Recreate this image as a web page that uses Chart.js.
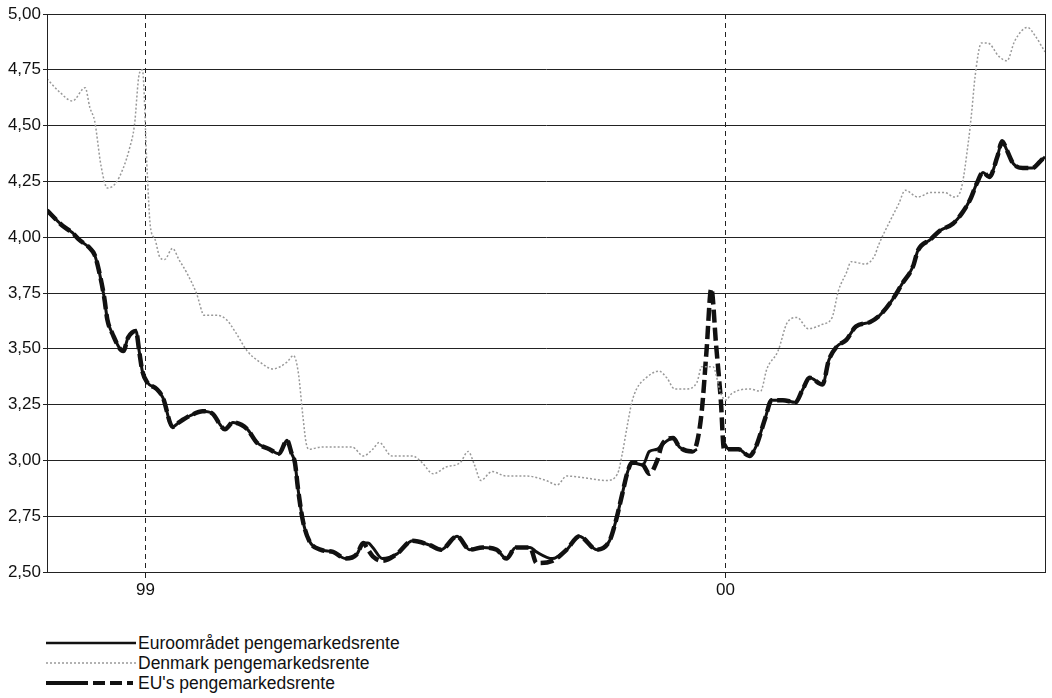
<!DOCTYPE html>
<html lang="da">
<head>
<meta charset="UTF-8">
<title>Pengemarkedsrenter</title>
<script src="https://cdn.jsdelivr.net/npm/chart.js"></script>
<style>
  body { margin: 0; background: #fff; font-family: "Liberation Sans", Arial, sans-serif; }
  #wrap { position: relative; width: 1052px; height: 698px; overflow: hidden; }
  #chart { position: absolute; left: 0; top: 0; }
  #legend { position: absolute; left: 46px; top: 633px; font-size: 17.5px; color: #111; }
  #legend div { display: flex; align-items: center; height: 20px; }
  #legend svg { margin-right: 2px; }
</style>
</head>
<body>
<div id="wrap">
  <canvas id="chart" width="1052" height="600"></canvas>
  <div id="legend">
    <div><svg width="90" height="8"><line x1="0" y1="4" x2="90" y2="4" stroke="#111" stroke-width="2.5"/></svg>Euroområdet pengemarkedsrente</div>
    <div><svg width="90" height="8"><line x1="0" y1="4" x2="90" y2="4" stroke="#999" stroke-width="1.5" stroke-dasharray="2 2"/></svg>Denmark pengemarkedsrente</div>
    <div><svg width="90" height="8"><line x1="0" y1="4" x2="90" y2="4" stroke="#111" stroke-width="4" stroke-dasharray="42 5 12 5 12 5 6 100"/></svg>EU's pengemarkedsrente</div>
  </div>
</div>
<script>
// euro area + EU (thick lines), same dates
const thickDates = [
  '1998-10-31','1998-11-10','1998-11-16','1998-11-20','1998-11-27','1998-11-30','1998-12-03','1998-12-06',
  '1998-12-08','1998-12-11','1998-12-18','1998-12-21','1998-12-26','1998-12-28','1998-12-30','1999-01-02',
  '1999-01-08','1999-01-12','1999-01-18','1999-01-22','1999-01-29','1999-02-06','1999-02-12','1999-02-20',
  '1999-02-25','1999-03-06','1999-03-12','1999-03-20','1999-03-26','1999-03-31','1999-04-03','1999-04-05',
  '1999-04-07','1999-04-10','1999-04-14','1999-04-21','1999-04-29','1999-05-07','1999-05-14','1999-05-18',
  '1999-05-21','1999-05-24','1999-05-30','1999-06-08','1999-06-18','1999-06-29','1999-07-06','1999-07-16',
  '1999-07-24','1999-08-01','1999-08-10','1999-08-16','1999-08-22','1999-08-31','1999-09-04','1999-09-14',
  '1999-09-23','1999-10-01','1999-10-12','1999-10-20','1999-10-24','1999-10-28','1999-10-31','1999-11-03',
  '1999-11-10','1999-11-14','1999-11-19','1999-11-22','1999-11-29','1999-12-03','1999-12-11','1999-12-14',
  '1999-12-17','1999-12-20','1999-12-23','1999-12-26','1999-12-29','1999-12-31','2000-01-03','2000-01-09',
  '2000-01-16','2000-01-20','2000-01-26','2000-01-30','2000-02-06','2000-02-14','2000-02-18','2000-02-23',
  '2000-03-02','2000-03-06','2000-03-11','2000-03-17','2000-03-23','2000-04-01','2000-04-07','2000-04-15',
  '2000-04-21','2000-04-28','2000-05-01','2000-05-09','2000-05-15','2000-05-23','2000-05-29','2000-06-03',
  '2000-06-07','2000-06-11','2000-06-15','2000-06-20','2000-06-23','2000-06-26','2000-06-30','2000-07-06',
  '2000-07-12','2000-07-17','2000-07-20'
];
const euroRates = [
  4.12, 4.05, 4.02, 3.99, 3.95, 3.92, 3.84, 3.73,
  3.63, 3.57, 3.49, 3.55, 3.58, 3.49, 3.40, 3.35,
  3.32, 3.28, 3.15, 3.17, 3.20, 3.22, 3.21, 3.14,
  3.17, 3.14, 3.08, 3.05, 3.03, 3.09, 3.03, 2.99,
  2.87, 2.73, 2.64, 2.60, 2.59, 2.56, 2.58, 2.63,
  2.63, 2.61, 2.56, 2.58, 2.64, 2.62, 2.60, 2.66,
  2.60, 2.61, 2.60, 2.56, 2.61, 2.61, 2.59, 2.56,
  2.60, 2.66, 2.60, 2.64, 2.73, 2.85, 2.94, 2.99,
  2.98, 3.04, 3.05, 3.07, 3.10, 3.06, 3.04, 3.05,
  null, null, null, null, null, 3.08, 3.05, 3.05,
  3.02, 3.06, 3.19, 3.27, 3.27, 3.26, 3.31, 3.37,
  3.34, 3.45, 3.51, 3.54, 3.60, 3.62, 3.65, 3.72,
  3.79, 3.87, 3.94, 3.99, 4.03, 4.06, 4.11, 4.17,
  4.24, 4.29, 4.27, 4.36, 4.43, 4.39, 4.33, 4.31,
  4.31, 4.34, 4.36
];
const euRates = [
  4.12, 4.05, 4.02, 3.99, 3.95, 3.92, 3.84, 3.73,
  3.63, 3.57, 3.49, 3.55, 3.58, 3.49, 3.40, 3.35,
  3.32, 3.28, 3.15, 3.17, 3.20, 3.22, 3.21, 3.14,
  3.17, 3.14, 3.08, 3.05, 3.03, 3.09, 3.03, 2.99,
  2.87, 2.73, 2.64, 2.60, 2.59, 2.56, 2.58, 2.63,
  2.60, 2.57, 2.55, 2.58, 2.64, 2.62, 2.60, 2.66,
  2.60, 2.61, 2.60, 2.56, 2.61, 2.61, 2.54, 2.55,
  2.60, 2.66, 2.60, 2.64, 2.73, 2.85, 2.94, 2.99,
  2.98, 2.94, 3.00, 3.07, 3.10, 3.06, 3.04, 3.08,
  3.22, 3.49, 3.77, 3.52, 3.27, 3.05, 3.05, 3.05,
  3.02, 3.06, 3.19, 3.27, 3.27, 3.26, 3.31, 3.37,
  3.34, 3.45, 3.51, 3.54, 3.60, 3.62, 3.65, 3.72,
  3.79, 3.87, 3.94, 3.99, 4.03, 4.06, 4.11, 4.17,
  4.24, 4.29, 4.27, 4.36, 4.43, 4.39, 4.33, 4.31,
  4.31, 4.34, 4.36
];

// Denmark
const dkDates = [
  '1998-10-31','1998-11-08','1998-11-16','1998-11-24','1998-11-27','1998-11-30','1998-12-04','1998-12-08',
  '1998-12-13','1998-12-18','1998-12-22','1998-12-25','1998-12-28','1998-12-30','1999-01-02','1999-01-04',
  '1999-01-07','1999-01-10','1999-01-13','1999-01-18','1999-01-22','1999-01-27','1999-02-02','1999-02-07',
  '1999-02-15','1999-02-21','1999-02-27','1999-03-06','1999-03-14','1999-03-22','1999-03-31','1999-04-04',
  '1999-04-07','1999-04-10','1999-04-12','1999-04-14','1999-04-22','1999-05-03','1999-05-11','1999-05-18',
  '1999-05-24','1999-05-28','1999-06-05','1999-06-18','1999-06-24','1999-07-01','1999-07-09','1999-07-18',
  '1999-07-23','1999-07-27','1999-07-31','1999-08-07','1999-08-16','1999-08-29','1999-09-10','1999-09-17',
  '1999-09-23','1999-10-06','1999-10-18','1999-10-25','1999-10-28','1999-10-31','1999-11-03','1999-11-06',
  '1999-11-12','1999-11-20','1999-11-25','1999-11-30','1999-12-07','1999-12-14','1999-12-17','1999-12-24',
  '1999-12-29','2000-01-01','2000-01-05','2000-01-16','2000-01-23','2000-01-27','2000-02-03','2000-02-09',
  '2000-02-15','2000-02-22','2000-03-02','2000-03-08','2000-03-12','2000-03-17','2000-03-20','2000-03-29',
  '2000-04-04','2000-04-06','2000-04-14','2000-04-19','2000-04-23','2000-05-01','2000-05-09','2000-05-18',
  '2000-05-24','2000-05-28','2000-06-02','2000-06-04','2000-06-06','2000-06-10','2000-06-14','2000-06-21',
  '2000-06-26','2000-07-01','2000-07-09','2000-07-14','2000-07-20'
];
const dkRates = [
  4.71, 4.65, 4.61, 4.67, 4.58, 4.52, 4.32, 4.22,
  4.24, 4.31, 4.40, 4.50, 4.73, 4.75, 4.30, 4.05,
  3.99, 3.91, 3.90, 3.95, 3.90, 3.84, 3.75, 3.65,
  3.65, 3.63, 3.57, 3.49, 3.44, 3.41, 3.44, 3.47,
  3.40, 3.20, 3.08, 3.05, 3.06, 3.06, 3.06, 3.02,
  3.05, 3.08, 3.02, 3.02, 2.99, 2.94, 2.97, 2.99,
  3.04, 2.98, 2.91, 2.95, 2.93, 2.93, 2.91, 2.89,
  2.93, 2.92, 2.91, 2.94, 3.03, 3.15, 3.26, 3.32,
  3.37, 3.40, 3.37, 3.32, 3.32, 3.35, 3.42, 3.42,
  3.30, 3.27, 3.30, 3.32, 3.31, 3.41, 3.49, 3.62,
  3.64, 3.59, 3.61, 3.64, 3.76, 3.84, 3.89, 3.88,
  3.92, 3.96, 4.08, 4.15, 4.21, 4.18, 4.20, 4.20,
  4.18, 4.21, 4.44, 4.57, 4.72, 4.87, 4.87, 4.81,
  4.79, 4.88, 4.94, 4.90, 4.83
];

const yTicks = [2.50, 2.75, 3.00, 3.25, 3.50, 3.75, 4.00, 4.25, 4.50, 4.75, 5.00];
const xTickDates = ['1999-01-01', '2000-01-01'];
const xTickLabels = ['99', '00'];
const xStart = '1998-10-31';
const xEnd = '2000-07-20';

// days since 1 Jan 1999
function dayNum(s) {
  const p = s.split('-').map(Number);
  return (Date.UTC(p[0], p[1] - 1, p[2]) - Date.UTC(1999, 0, 1)) / 86400000;
}
function points(dates, vals) {
  return dates.map((d, i) => ({ x: dayNum(d), y: vals[i] }));
}

const fontFam = '"Liberation Sans", Arial, sans-serif';

const frame = {
  id: 'frame',
  afterDraw(chart) {
    const a = chart.chartArea, ctx = chart.ctx;
    ctx.save();
    ctx.strokeStyle = '#222';
    ctx.lineWidth = 1;
    ctx.strokeRect(Math.round(a.left) + 0.5, Math.round(a.top) + 0.5, Math.round(a.right - a.left), Math.round(a.bottom - a.top));
    ctx.restore();
  }
};

new Chart(document.getElementById('chart'), {
  type: 'line',
  data: {
    datasets: [
      {
        label: 'Denmark pengemarkedsrente',
        data: points(dkDates, dkRates),
        borderColor: '#999',
        borderWidth: 1.5,
        borderDash: [2, 2]
      },
      {
        label: "EU's pengemarkedsrente",
        data: points(thickDates, euRates),
        borderColor: '#111',
        borderWidth: 4.5,
        borderDash: [13, 5]
      },
      {
        label: 'Euroområdet pengemarkedsrente',
        data: points(thickDates, euroRates),
        borderColor: '#111',
        borderWidth: 3,
        spanGaps: false
      }
    ]
  },
  options: {
    responsive: false,
    animation: false,
    layout: { padding: { top: 14, right: 7, left: 0, bottom: 0 } },
    plugins: { legend: { display: false }, tooltip: { enabled: false } },
    elements: {
      point: { radius: 0 },
      line: { cubicInterpolationMode: 'monotone', borderCapStyle: 'butt' }
    },
    scales: {
      x: {
        type: 'linear',
        min: dayNum(xStart),
        max: dayNum(xEnd),
        afterBuildTicks: s => { s.ticks = xTickDates.map(d => ({ value: dayNum(d) })); },
        afterFit: s => { s.height = 28; },
        ticks: {
          autoSkip: false,
          maxRotation: 0,
          padding: 2,
          color: '#111',
          font: { family: fontFam, size: 17 },
          callback: v => xTickLabels[xTickDates.map(dayNum).indexOf(v)]
        },
        grid: { color: '#222', lineWidth: 1, tickLength: 6 },
        border: { color: '#222', width: 1, dash: [5, 4] }
      },
      y: {
        min: 2.5,
        max: 5,
        afterBuildTicks: s => { s.ticks = yTicks.map(v => ({ value: v })); },
        afterFit: s => { s.width = 47; },
        ticks: {
          padding: 2,
          color: '#111',
          font: { family: fontFam, size: 17 },
          callback: v => v.toFixed(2).replace('.', ',')
        },
        grid: { color: '#222', lineWidth: 1, tickLength: 4 },
        border: { color: '#222', width: 1 }
      }
    }
  },
  plugins: [frame]
});
</script>
</body>
</html>
